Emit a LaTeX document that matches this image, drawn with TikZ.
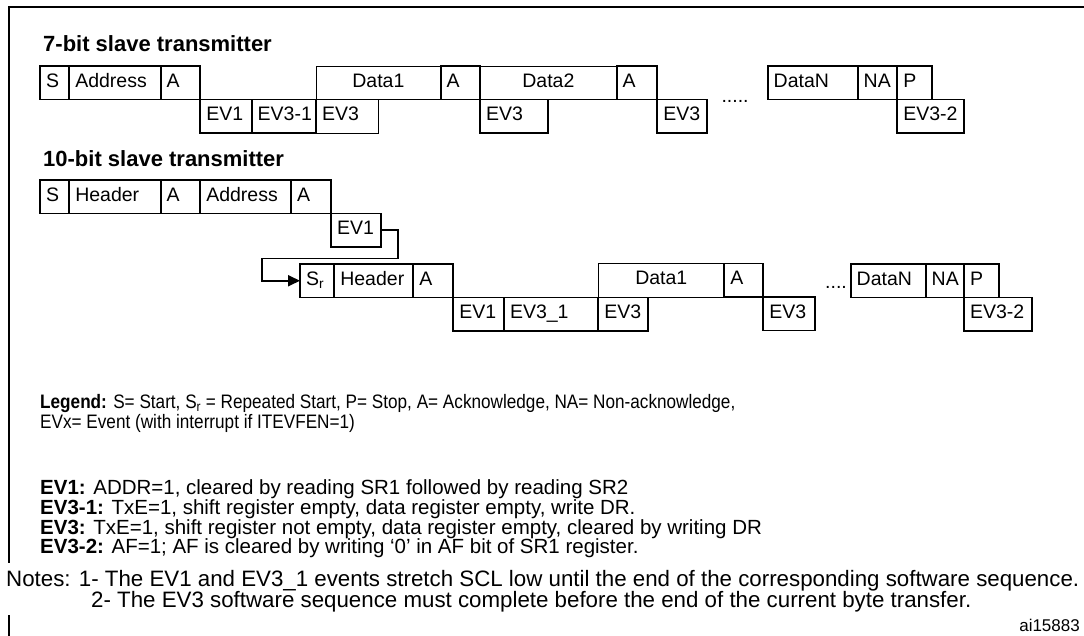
\documentclass[tikz,border=0pt]{standalone}
\usepackage{fontspec}
\setmainfont{Liberation Sans}
\usetikzlibrary{arrows.meta,positioning}
\newcommand{\boxfont}{\fontsize{19.5}{21}\selectfont\hyphenpenalty=10000\exhyphenpenalty=10000}
\newcommand{\headfont}{\fontsize{22}{24}\selectfont\bfseries}
\newcommand{\legendfont}{\fontsize{19.5}{22}\selectfont}
\newcommand{\eventfont}{\fontsize{20.5}{22}\selectfont}
\newcommand{\notesfont}{\fontsize{22.3}{24}\selectfont}
\newcommand{\tagfont}{\fontsize{17}{19}\selectfont}
\newcommand{\narrow}[1]{\scalebox{0.88}[1]{#1}}
\tikzset{
  field/.style={rectangle,draw,line width=1.8pt,outer sep=0pt,anchor=north west,
    minimum width=#1pt,text width=#1pt-12pt,minimum height=33.5pt,
    text height=14pt,text depth=4.5pt,
    inner xsep=6pt,inner ysep=0pt,align=left,font=\boxfont},
  thinfield/.style={field=#1,line width=0.9pt},
  datafield/.style={thinfield=#1,align=center},
  dotsmark/.style={anchor=base west,inner sep=0pt,font=\boxfont},
  heading/.style={anchor=base west,inner sep=0pt,font=\headfont},
  legendline/.style={anchor=base west,inner sep=0pt,font=\legendfont},
  eventline/.style={anchor=base west,inner sep=0pt,font=\eventfont},
  noteline/.style={anchor=base west,inner sep=0pt,font=\notesfont},
  link/.style={line width=1.8pt,-{Triangle[length=12pt,width=11pt]}},
  frame/.style={line width=2pt}
}
\begin{document}
\begin{tikzpicture}[x=1pt,y=-1pt]
\useasboundingbox (0,0) rectangle (1084,636);
\draw[frame] (1084,7) -- (9,7) -- (9,563);
\draw[frame] (9,615) -- (9,636);

% 7-bit slave transmitter
\node[heading] (title7) at (43,52) {7-bit slave transmitter};
\node[datafield=124.7,anchor=south west] (data1a) at (316,99.5) {Data1};
\node[thinfield=62.3] (ev3a) at (316,99.5) {EV3};
\node[datafield=136.7,anchor=south west] (data2a) at (480,99.5) {Data2};
\node[field=29.3] (s7) at (40,66) {S};
\node[field=91.4] (addr7) at (s7.north east) {Address};
\node[field=39.6] (ack7a) at (addr7.north east) {A};
\node[field=51.4] (ev1a) at (ack7a.south east) {EV1};
\node[field=64.3] (ev31a) at (ev1a.north east) {EV3-1};
\node[field=39.3] (ack7b) at (data1a.north east) {A};
\node[field=68.3] (ev3b) at (ack7b.south east) {EV3};
\node[field=40.6] (ack7c) at (data2a.north east) {A};
\node[field=50] (ev3c) at (ack7c.south east) {EV3};
\node[dotsmark,xshift=14pt,yshift=-3pt] (dots7) at (ev3c.north east) {.....};
\node[field=90] (dataNa) at (767.7,66) {DataN};
\node[field=39.6] (nack7) at (dataNa.north east) {NA};
\node[field=34.7] (stop7) at (nack7.north east) {P};
\node[field=66.7] (ev32a) at (stop7.south west) {EV3-2};

% 10-bit slave transmitter
\node[heading] (title10) at (43,167) {10-bit slave transmitter};
\node[field=29.3] (s10) at (40,180) {S};
\node[field=91.4] (hdr10) at (s10.north east) {Header};
\node[field=39.6] (ack10a) at (hdr10.north east) {A};
\node[field=90.7] (addr10) at (ack10a.north east) {Address};
\node[field=40] (ack10b) at (addr10.north east) {A};
\node[field=50] (ev1b) at (ack10b.south east) {EV1};

\node[datafield=126,anchor=south west] (data1c) at (598.3,297) {Data1};
\node[field=34.3] (sr10) at (300,264) {S\textsubscript{r}};
\node[field=79] (hdr10b) at (sr10.north east) {Header};
\node[field=40] (ack10c) at (hdr10b.north east) {A};
\node[field=50.7] (ev1c) at (ack10c.south east) {EV1};
\node[field=94.3] (ev31c) at (ev1c.north east) {EV3\_1};
\node[field=50] (ev3d) at (ev31c.north east) {EV3};
\node[field=39] (ack10d) at (data1c.north east) {A};
\node[field=51.7] (ev3e) at (ack10d.south east) {EV3};
\node[dotsmark,xshift=10pt,yshift=8pt] (dots10) at (ev3e.north east) {....};
\node[field=75] (dataNb) at (850.7,264) {DataN};
\node[field=38.3] (nack10) at (dataNb.north east) {NA};
\node[field=35.3] (stop10) at (nack10.north east) {P};
\node[field=67.7] (ev32b) at (stop10.south west) {EV3-2};

\draw[link] (ev1b.east) -- ++(17,0) -- ++(0,28.3) -| ([xshift=-38pt]sr10.west) -- (sr10.west);

% legend and notes
\node[legendline] (legend1) at (40,408) {\narrow{\textbf{Legend:} S= Start, S\textsubscript{r} = Repeated Start, P= Stop, A= Acknowledge, NA= Non-acknowledge,}};
\node[legendline] (legend2) at (40,428) {\narrow{EVx= Event (with interrupt if ITEVFEN=1)}};
\node[eventline] (evdef1) at (40,494) {\textbf{EV1:} ADDR=1, cleared by reading SR1 followed by reading SR2};
\node[eventline] (evdef2) at (40,514) {\textbf{EV3-1:} TxE=1, shift register empty, data register empty, write DR.};
\node[eventline] (evdef3) at (40,534) {\textbf{EV3:} TxE=1, shift register not empty, data register empty, cleared by writing DR};
\node[eventline] (evdef4) at (40,553) {\textbf{EV3-2:} AF=1; AF is cleared by writing `0' in AF bit of SR1 register.};
\node[noteline] (notes1) at (6,586) {Notes: 1- The EV1 and EV3\_1 events stretch SCL low until the end of the corresponding software sequence.};
\node[noteline] (notes2) at (91,607) {2- The EV3 software sequence must complete before the end of the current byte transfer.};
\node[anchor=base east,inner sep=0pt,font=\tagfont] (figtag) at (1080,631) {ai15883};
\end{tikzpicture}
\end{document}
